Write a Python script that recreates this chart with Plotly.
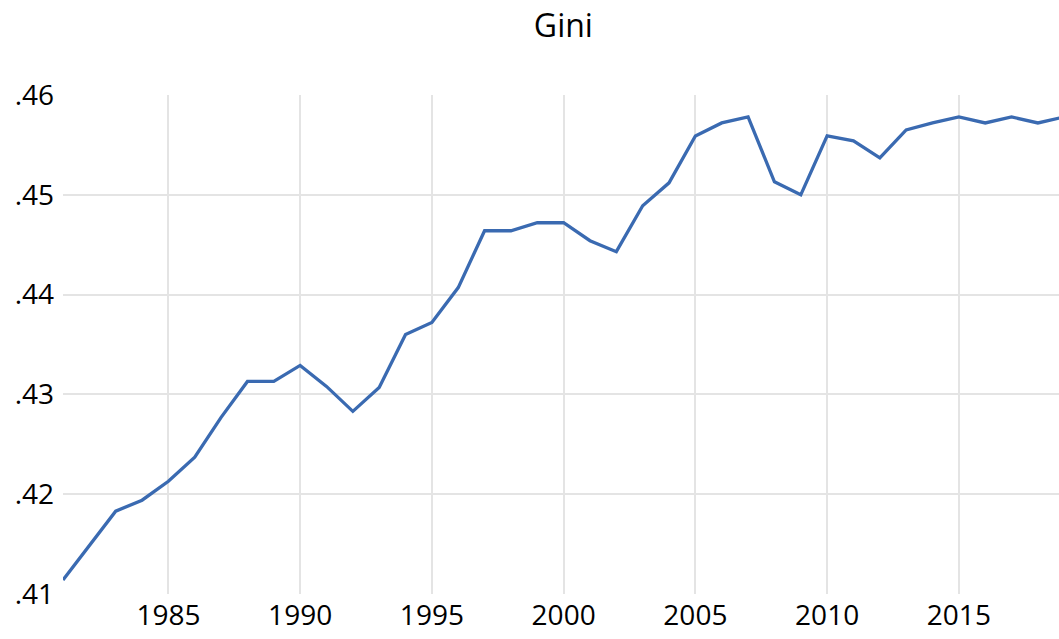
import plotly.graph_objects as go

years = list(range(1981, 2020))
gini = [0.4114, 0.4148, 0.4183, 0.4194, 0.4213, 0.4237, 0.4277, 0.4313, 0.4313, 0.4329,
        0.4308, 0.4283, 0.4307, 0.4360, 0.4372, 0.4407, 0.4464, 0.4464, 0.4472, 0.4472,
        0.4454, 0.4443, 0.4489, 0.4512, 0.4559, 0.4572, 0.4578, 0.4513, 0.4500, 0.4559,
        0.4554, 0.4537, 0.4565, 0.4572, 0.4578, 0.4572, 0.4578, 0.4572, 0.4578]

y_ticks = [0.41, 0.42, 0.43, 0.44, 0.45, 0.46]
y_labels = [".41", ".42", ".43", ".44", ".45", ".46"]
x_ticks = [1985, 1990, 1995, 2000, 2005, 2010, 2015]

FONT = "Open Sans"

fig = go.Figure()
fig.add_trace(go.Scatter(x=years, y=gini, mode="lines",
                         line=dict(color="#3a6ab1", width=3.3), showlegend=False))

fig.update_layout(
    width=1059, height=639,
    paper_bgcolor="white", plot_bgcolor="white",
    margin=dict(l=63, r=0, t=95, b=45),
    title=dict(text="Gini", x=0.532, xanchor="center", y=0.96, yanchor="middle",
               font=dict(family=FONT, size=32, color="#000000")),
    font=dict(family=FONT, size=28, color="#000000"),
    xaxis=dict(range=[1981, 2018.8], tickvals=x_ticks, showgrid=True,
               gridcolor="#e4e4e4", gridwidth=1.5, zeroline=False, showline=False,
               ticks="", ticklabelstandoff=2),
    yaxis=dict(range=[0.41, 0.46], tickvals=y_ticks, ticktext=y_labels, showgrid=True,
               gridcolor="#e4e4e4", gridwidth=1.5, zeroline=False, showline=False,
               ticks="", ticklabelstandoff=8),
)

fig.write_html("out.html", config={"displayModeBar": False},
               post_script="document.body.style.margin='0';")
